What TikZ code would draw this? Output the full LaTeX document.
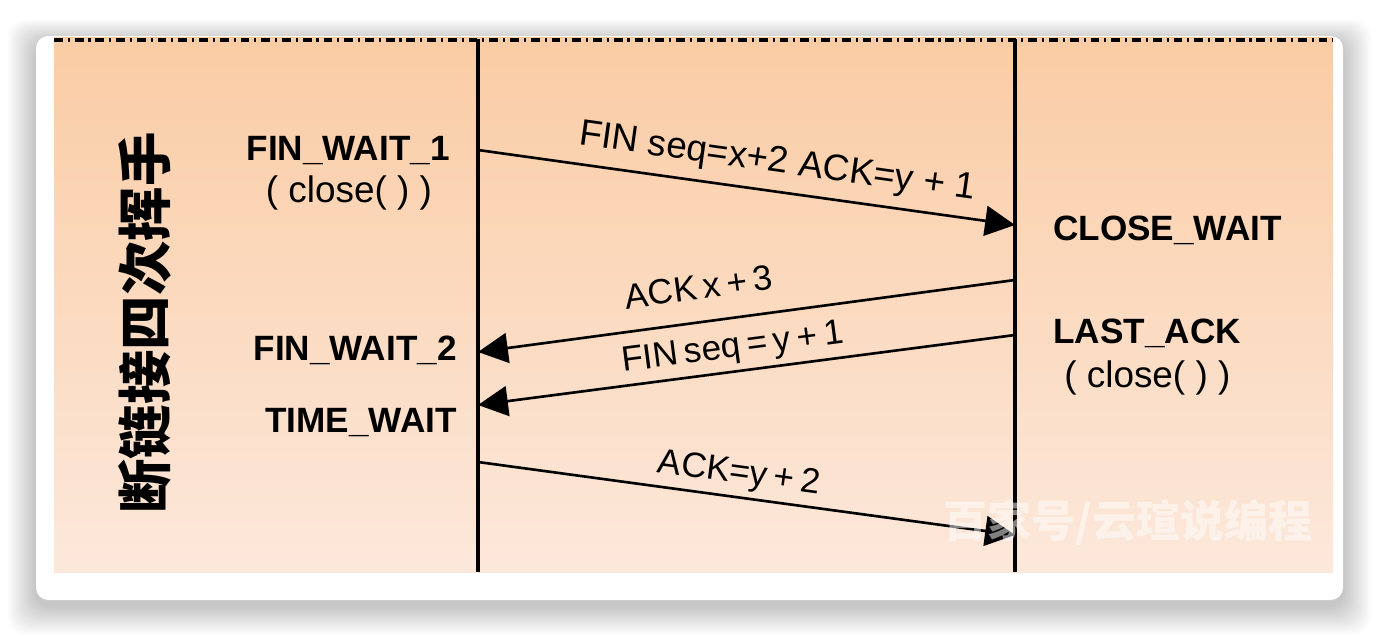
\documentclass[tikz,border=0pt]{standalone}
\usepackage{fontspec}
\setmainfont{Liberation Sans}
\newfontfamily\cjk{Noto Sans CJK SC}
\usetikzlibrary{calc,arrows.meta}
\definecolor{peachtop}{RGB}{250,204,164}
\definecolor{peachbot}{RGB}{252,232,219}

\begin{document}
\begin{tikzpicture}[x=0.02cm, y=-0.02cm, >={Triangle[length=17pt,width=17pt]},
  state/.style={font=\fontsize{20}{24}\selectfont\bfseries, inner sep=0pt},
  call/.style={font=\fontsize{21}{25}\selectfont, inner sep=0pt},
  msg/.style={line width=1.5pt},
  lbl/.style={font=\fontsize{20}{24}\selectfont, execute at begin node={\spaceskip=0.18em\relax}, sloped, anchor=base, inner sep=0pt},
  widelbl/.style={font=\fontsize{21}{25}\selectfont, sloped, anchor=base, inner sep=0pt},
  life/.style={line width=1.8pt}]

\useasboundingbox (0,0) rectangle (1380,636);
\fill[white] (0,0) rectangle (1380,636);
% soft shadow of the card
\foreach \i in {1,...,14}
  \fill[black, opacity=0.014, rounded corners=10pt] (36-2*\i, 42-1.6*\i) rectangle (1343+2*\i, 606+2*\i);
\fill[white, rounded corners=7pt] (36,36) rectangle (1343,600);
\shade[top color=peachtop, bottom color=peachbot] (54,37) rectangle (1333,572);
\draw[line width=2pt, dash pattern=on 5pt off 2.8pt on 1.2pt off 2.8pt] (54,40) -- (1333,40);

% lifelines
\coordinate (ltop) at (478,39);
\coordinate (lbot) at (478,572);
\coordinate (rtop) at (1015,39);
\coordinate (rbot) at (1015,572);
\draw[life] (ltop) -- (lbot);
\draw[life] (rtop) -- (rbot);

\node[font=\cjk\bfseries\fontsize{31}{31}\selectfont, rotate=90, inner sep=0pt] (0) at (145,323) {断链接四次挥手};

\node[state, anchor=base east] (1) at (450,160) {FIN\_WAIT\_1};
\node[call, anchor=base] (2) at (349,202) {( close( ) )};
\node[state, anchor=base east] (3) at (457,360) {FIN\_WAIT\_2};
\node[state, anchor=base east] (4) at (457,432) {TIME\_WAIT};
\node[state, anchor=base west] (5) at (1053,240) {CLOSE\_WAIT};
\node[state, anchor=base west] (6) at (1053,343) {LAST\_ACK};
\node[call, anchor=base west] (7) at (1064,387) {( close( ) )};

% message ends
\coordinate (a1) at (478,150);
\coordinate (b1) at (1015,225);
\coordinate (a2) at (478,352);
\coordinate (b2) at (1015,280);
\coordinate (a3) at (478,405);
\coordinate (b3) at (1015,335);
\coordinate (a4) at (478,462);
\coordinate (b4) at (1015,535);

\draw[msg, ->] (a1) -- (b1) node[widelbl, pos=0.55, yshift=11pt] {FIN seq=x+2 ACK=y + 1};
\draw[msg, <-] (a2) -- (b2) node[lbl, pos=0.42, yshift=13pt] {ACK x + 3};
\draw[msg, <-] (a3) -- (b3) node[lbl, pos=0.48, yshift=8pt] {FIN seq = y + 1};
\draw[msg, ->] (a4) -- (b4) node[lbl, pos=0.48, yshift=8pt] {ACK=y + 2};

\node[font=\cjk\bfseries\fontsize{25}{25}\selectfont, text=white, opacity=0.5, inner sep=0pt] (8) at (1128,522) {百家号/云瑄说编程};

\end{tikzpicture}
\end{document}
